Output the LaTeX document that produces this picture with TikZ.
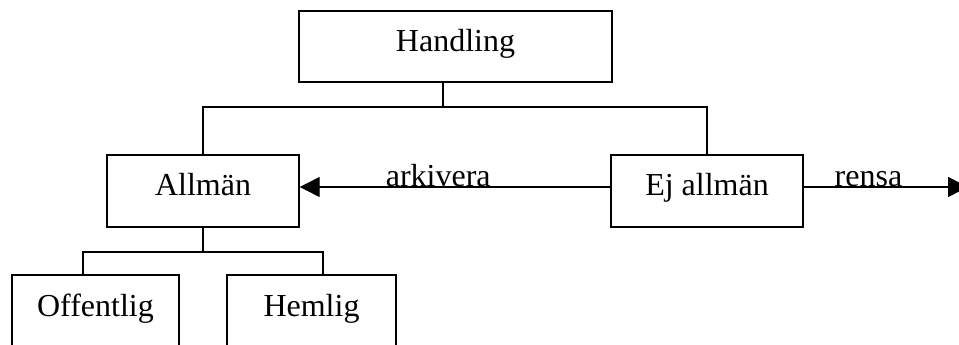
\documentclass[tikz,border=0pt]{standalone}
\usepackage{fontspec}
\setmainfont{Liberation Serif}
\usetikzlibrary{arrows.meta}
\begin{document}
\begin{tikzpicture}[x=0.75pt,y=-0.75pt,
  every node/.style={font=\fontsize{24pt}{28pt}\selectfont},
  box/.style={draw, line width=1.1pt, rectangle, inner sep=0pt, text height=7.5pt, text depth=0pt},
  conn/.style={line width=1.1pt},
  arr/.style={line width=1.1pt, -{Triangle[length=15pt,width=15pt]}},
  elabel/.style={anchor=base, inner sep=0pt}]
\useasboundingbox (0,0) rectangle (959,345);
\clip (0,0) rectangle (959,345);
% boxes
\node[box, minimum width=313*0.75pt, minimum height=71*0.75pt] (hand) at (455.5,46.5) {Handling};
\node[box, minimum width=192*0.75pt, minimum height=72*0.75pt] (allm) at (203,191) {Allmän};
\node[box, minimum width=192*0.75pt, minimum height=72*0.75pt] (ej) at (707,191) {Ej allmän};
\node[box, minimum width=167*0.75pt, minimum height=72*0.75pt] (off) at (95.5,311) {Offentlig};
\node[box, minimum width=169*0.75pt, minimum height=72*0.75pt] (hem) at (311.5,311) {Hemlig};
% bus coordinates
\coordinate (busM) at (443,107);
\coordinate (busL) at (203,107);
\coordinate (busR) at (707,107);
\coordinate (lowM) at (203,252);
\coordinate (lowL) at (83,252);
\coordinate (lowR) at (323,252);
\coordinate (rensaEnd) at (968,187);
% connectors
\draw[conn] (hand.south -| busM) -- (busM);
\draw[conn] (allm.north) -- (busL) -- (busR) -- (ej.north);
\draw[conn] (allm.south) -- (lowM);
\draw[conn] (off.north -| lowL) -- (lowL) -- (lowR) -- (hem.north -| lowR);
\draw[arr] (ej.west |- 0,187) -- node[elabel, pos=0.554] (lblark) {arkivera} (allm.east |- 0,187);
\draw[arr] (ej.east |- 0,187) -- node[elabel, pos=0.394] (lblrensa) {rensa} (rensaEnd);
\end{tikzpicture}
\end{document}
